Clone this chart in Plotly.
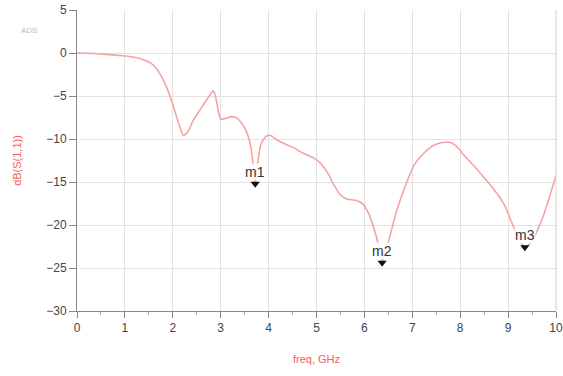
import plotly.graph_objects as go

freq = [0, 0.5, 1.0, 1.2, 1.4, 1.55, 1.67, 1.78, 1.88, 1.97, 2.05, 2.14, 2.22, 2.32, 2.43, 2.57,
        2.71, 2.8, 2.84, 2.88, 2.92, 2.96, 3.0, 3.1, 3.23, 3.35, 3.44, 3.52, 3.58, 3.63, 3.67,
        3.72, 3.78, 3.84, 3.9, 3.97, 4.04, 4.2, 4.35, 4.52, 4.7, 4.94, 5.08, 5.22, 5.36, 5.5,
        5.64, 5.78, 5.9, 5.99, 6.1, 6.2, 6.28, 6.34, 6.37, 6.42, 6.51, 6.63, 6.76, 6.9, 7.04,
        7.25, 7.46, 7.63, 7.8, 7.95, 8.08, 8.3, 8.5, 8.68, 8.85, 8.97, 9.06, 9.2, 9.35, 9.5,
        9.69, 9.85, 10.0]
s11_db = [0, -0.1, -0.35, -0.5, -0.8, -1.2, -1.9, -2.9, -4.1, -5.5, -6.9, -8.5, -9.6, -9.1,
          -7.8, -6.6, -5.4, -4.7, -4.4, -4.8, -5.8, -7.0, -7.7, -7.6, -7.4, -7.6, -8.2, -8.9,
          -9.8, -11.0, -12.6, -15.2, -12.5, -10.6, -10.0, -9.6, -9.6, -10.2, -10.6, -11.0,
          -11.6, -12.2, -12.8, -13.8, -15.3, -16.5, -17.0, -17.1, -17.3, -17.7, -18.8, -20.4,
          -22.0, -23.4, -24.4, -23.2, -21.8, -19.2, -16.9, -14.8, -13.0, -11.6, -10.7, -10.4,
          -10.4, -11.0, -11.9, -13.2, -14.5, -15.7, -17.0, -18.2, -19.5, -21.2, -22.6, -21.8,
          -19.6, -17.0, -14.2]

marker_names = ["m1", "m2", "m3"]
marker_freq = [3.72, 6.37, 9.35]
marker_db = [-15.2, -24.4, -22.6]

x_ticks = list(range(0, 11))
y_ticks = list(range(-30, 6, 5))

FONT = "Liberation Sans, Arial, sans-serif"

fig = go.Figure()
fig.add_trace(go.Scatter(x=freq, y=s11_db, mode="lines",
                         line=dict(color="#f4a3a3", width=1.6, shape="spline", smoothing=0.6),
                         hoverinfo="skip", showlegend=False))
fig.add_trace(go.Scatter(x=marker_freq, y=marker_db, mode="markers",
                         marker=dict(symbol="triangle-down", size=8, color="#111"),
                         showlegend=False))
for name, fx, fy in zip(marker_names, marker_freq, marker_db):
    fig.add_annotation(x=fx, y=fy, text=name, showarrow=False, yanchor="bottom", yshift=3,
                       font=dict(family=FONT, size=14, color="#333"),
                       bgcolor="rgba(255,255,255,0.85)", borderpad=0)

fig.add_annotation(xref="paper", yref="paper", x=-0.08, y=0.955, text="ADS", showarrow=False,
                   font=dict(family=FONT, size=8, color="#bbbbbb"), xanchor="right")

fig.update_xaxes(range=[0, 10], tickvals=x_ticks, showgrid=True, gridcolor="#e2e2e2", gridwidth=1,
                 showline=True, linecolor="#888", linewidth=1, mirror=False, zeroline=False,
                 ticks="outside", ticklen=6, tickcolor="#888", automargin=False,
                 minor=dict(dtick=0.5, ticks="outside", ticklen=3, tickcolor="#aaa", showgrid=False),
                 tickfont=dict(family=FONT, size=12, color="#444"),
                 title=dict(text="freq, GHz", font=dict(family=FONT, size=11, color="#f06060"),
                            standoff=20))
fig.update_yaxes(range=[-30, 5], tickvals=y_ticks, showgrid=True, gridcolor="#e2e2e2", gridwidth=1,
                 showline=True, linecolor="#888", linewidth=1, zeroline=False,
                 ticks="outside", ticklen=7, tickcolor="#888", automargin=False,
                 tickfont=dict(family=FONT, size=12, color="#444"),
                 title=dict(text="dB(S(1,1))", font=dict(family=FONT, size=11, color="#f06060"),
                            standoff=22))

fig.add_shape(type="line", xref="paper", yref="paper", x0=1, x1=1, y0=0, y1=1,
              line=dict(color="#cfcfcf", width=1))

fig.update_layout(width=563, height=376, margin=dict(l=77, r=7, t=10, b=65),
                  plot_bgcolor="white", paper_bgcolor="white")

fig.write_html("out.html")
